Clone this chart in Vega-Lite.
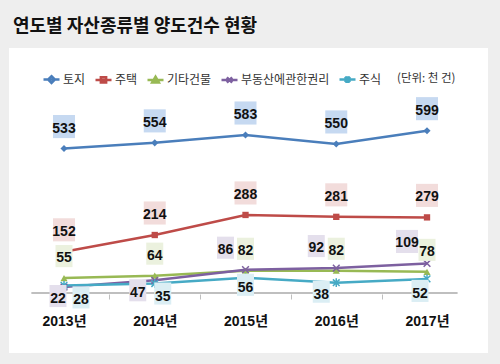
{
  "$schema": "https://vega.github.io/schema/vega-lite/v6.json",
  "width": 479,
  "height": 305,
  "autosize": {"type": "none"},
  "padding": {"left": 9, "top": 48, "right": 12, "bottom": 11},
  "background": "#eeeeee",
  "title": {"text": "연도별 자산종류별 양도건수 현황", "anchor": "start", "frame": "group", "offset": 12, "dx": 4, "font": "Noto Sans CJK KR", "fontSize": 18, "fontWeight": "bold", "color": "#111111"},
  "config": {"view": {"fill": "white", "stroke": null}},
  "data": {"values": [
    {"year": 2013, "s": "토지", "value": 533},
    {"year": 2014, "s": "토지", "value": 554},
    {"year": 2015, "s": "토지", "value": 583},
    {"year": 2016, "s": "토지", "value": 550},
    {"year": 2017, "s": "토지", "value": 599},
    {"year": 2013, "s": "주택", "value": 152},
    {"year": 2014, "s": "주택", "value": 214},
    {"year": 2015, "s": "주택", "value": 288},
    {"year": 2016, "s": "주택", "value": 281},
    {"year": 2017, "s": "주택", "value": 279},
    {"year": 2013, "s": "기타건물", "value": 55},
    {"year": 2014, "s": "기타건물", "value": 64},
    {"year": 2015, "s": "기타건물", "value": 82},
    {"year": 2016, "s": "기타건물", "value": 82},
    {"year": 2017, "s": "기타건물", "value": 78},
    {"year": 2013, "s": "부동산에관한권리", "value": 22},
    {"year": 2014, "s": "부동산에관한권리", "value": 47},
    {"year": 2015, "s": "부동산에관한권리", "value": 86},
    {"year": 2016, "s": "부동산에관한권리", "value": 92},
    {"year": 2017, "s": "부동산에관한권리", "value": 109},
    {"year": 2013, "s": "주식", "value": 28},
    {"year": 2014, "s": "주식", "value": 35},
    {"year": 2015, "s": "주식", "value": 56},
    {"year": 2016, "s": "주식", "value": 38},
    {"year": 2017, "s": "주식", "value": 52}
  ]},
  "encoding": {
    "x": {"field": "year", "type": "quantitative",
      "scale": {"domain": [2012.394, 2017.672], "nice": false, "zero": false},
      "axis": {"values": [2013, 2014, 2015, 2016, 2017], "labelExpr": "datum.value + '년'", "title": null, "domain": false, "grid": false, "offset": -59,
        "tickSize": 5, "tickColor": "#bfbfbf", "tickWidth": 1, "tickOffset": 45.4, "labelOffset": -45.4,
        "tickOpacity": {"condition": {"test": "datum.value == 2017", "value": 0}, "value": 1},
        "labelFont": "Liberation Sans, Noto Sans CJK KR", "labelFontSize": 14, "labelFontWeight": "bold", "labelColor": "#111111",
        "labelPadding": 15, "labelFlush": false, "labelOverlap": false}},
    "y": {"field": "value", "type": "quantitative", "scale": {"domain": [-221.4, 904.06], "nice": false, "zero": false}, "axis": null}
  },
  "layer": [
    {"mark": {"type": "rule", "color": "#bfbfbf", "strokeWidth": 1.5},
     "encoding": {"x": {"datum": 2012.647, "type": "quantitative"}, "x2": {"datum": 2017.331}, "y": {"datum": 0, "type": "quantitative"}}},
    {"mark": {"type": "line", "strokeWidth": 2.5},
     "encoding": {"color": {"field": "s", "type": "nominal",
       "scale": {"domain": ["토지", "주택", "기타건물", "부동산에관한권리", "주식"], "range": ["#4a7ebb", "#be4b48", "#98b954", "#7d60a0", "#46aac5"]},
       "legend": {"orient": "none", "legendX": 33, "legendY": 22, "direction": "horizontal", "title": "(단위: 천 건)", "titleOrient": "right",
         "titleFont": "Noto Sans CJK KR", "titleFontSize": 11.5, "titleFontWeight": "normal", "titleColor": "#333333", "titlePadding": 16,
         "labelFont": "Noto Sans CJK KR", "labelFontSize": 12, "labelColor": "#333333", "labelOffset": 2,
         "symbolType": "M-1,0H1", "symbolSize": 256, "symbolStrokeWidth": 2.5, "columnPadding": 4,
         "encode": {"symbols": {"update": {
           "shape": {"signal": "datum.value == '토지' ? 'M-1,0H1M0,-0.42L0.42,0L0,0.42L-0.42,0Z' : datum.value == '주택' ? 'M-1,0H1M-0.33,-0.33H0.33V0.33H-0.33Z' : datum.value == '기타건물' ? 'M-1,0H1M0,-0.4L0.42,0.33H-0.42Z' : datum.value == '부동산에관한권리' ? 'M-1,0H1M-0.33,-0.33L0.33,0.33M-0.33,0.33L0.33,-0.33' : 'M-1,0H1M-0.33,-0.33L0.33,0.33M-0.33,0.33L0.33,-0.33M0,-0.42V0.42'"},
           "fill": {"signal": "scale('color', datum.value)"}
         }}}}}}},
    {"transform": [{"filter": "datum.s == '토지'"}],
     "mark": {"type": "point", "shape": "diamond", "filled": true, "opacity": 1, "size": 50, "strokeWidth": 0, "color": "#4a7ebb"}},
    {"transform": [{"filter": "datum.s == '주택'"}],
     "mark": {"type": "point", "shape": "square", "filled": true, "opacity": 1, "size": 40, "strokeWidth": 0, "color": "#be4b48"}},
    {"transform": [{"filter": "datum.s == '기타건물'"}],
     "mark": {"type": "point", "shape": "triangle-up", "filled": true, "opacity": 1, "size": 50, "strokeWidth": 0, "color": "#98b954"}},
    {"transform": [{"filter": "datum.s == '부동산에관한권리'"}],
     "mark": {"type": "point", "shape": "M-1,-1L1,1M-1,1L1,-1", "filled": false, "opacity": 1, "size": 45, "strokeWidth": 1.5, "color": "#7d60a0"}},
    {"transform": [{"filter": "datum.s == '주식'"}],
     "mark": {"type": "point", "shape": "M-1,-1L1,1M-1,1L1,-1M0,-1.3V1.3", "filled": false, "opacity": 1, "size": 45, "strokeWidth": 1.5, "color": "#46aac5"}},
    {"transform": [{"filter": "indexof(['토지','주택','기타건물'], datum.s) >= 0"}],
     "layer": [
       {"mark": {"type": "point", "filled": true, "opacity": 1, "strokeWidth": 0, "xOffset": 0, "yOffset": -22},
        "encoding": {"fill": {"field": "s", "type": "nominal", "scale": {"domain": ["토지", "주택", "기타건물", "부동산에관한권리", "주식"], "range": ["#c6d9f1", "#f2dcdb", "#ebf1de", "#e4dfec", "#dbeef4"]}, "legend": null},
          "shape": {"condition": {"test": "datum.value >= 100", "value": "M-1,-1.05H1V1.05H-1Z"}, "value": "M-1,-1.3H1V1.3H-1Z"},
          "size": {"condition": {"test": "datum.value >= 100", "value": 484}, "value": 289}}},
       {"mark": {"type": "text", "font": "Liberation Sans", "fontSize": 14, "fontWeight": "bold", "color": "#111111", "baseline": "middle", "align": "center", "dx": 0, "dy": -20},
        "encoding": {"text": {"field": "value", "type": "quantitative"}}}
     ]},
    {"transform": [{"filter": "datum.s == '부동산에관한권리' && datum.year >= 2015"}],
     "layer": [
       {"mark": {"type": "point", "filled": true, "opacity": 1, "strokeWidth": 0, "xOffset": -20, "yOffset": -22},
        "encoding": {"fill": {"field": "s", "type": "nominal", "scale": {"domain": ["토지", "주택", "기타건물", "부동산에관한권리", "주식"], "range": ["#c6d9f1", "#f2dcdb", "#ebf1de", "#e4dfec", "#dbeef4"]}, "legend": null},
          "shape": {"condition": {"test": "datum.value >= 100", "value": "M-1,-1.05H1V1.05H-1Z"}, "value": "M-1,-1.3H1V1.3H-1Z"},
          "size": {"condition": {"test": "datum.value >= 100", "value": 484}, "value": 289}}},
       {"mark": {"type": "text", "font": "Liberation Sans", "fontSize": 14, "fontWeight": "bold", "color": "#111111", "baseline": "middle", "align": "center", "dx": -20, "dy": -20},
        "encoding": {"text": {"field": "value", "type": "quantitative"}}}
     ]},
    {"transform": [{"filter": "datum.s == '부동산에관한권리' && datum.year == 2013"}],
     "layer": [
       {"mark": {"type": "point", "filled": true, "opacity": 1, "strokeWidth": 0, "xOffset": -6, "yOffset": 9},
        "encoding": {"fill": {"field": "s", "type": "nominal", "scale": {"domain": ["토지", "주택", "기타건물", "부동산에관한권리", "주식"], "range": ["#c6d9f1", "#f2dcdb", "#ebf1de", "#e4dfec", "#dbeef4"]}, "legend": null},
          "shape": {"value": "M-1,-1.3H1V1.3H-1Z"}, "size": {"value": 289}}},
       {"mark": {"type": "text", "font": "Liberation Sans", "fontSize": 14, "fontWeight": "bold", "color": "#111111", "baseline": "middle", "align": "center", "dx": -6, "dy": 12},
        "encoding": {"text": {"field": "value", "type": "quantitative"}}}
     ]},
    {"transform": [{"filter": "datum.s == '부동산에관한권리' && datum.year == 2014"}],
     "layer": [
       {"mark": {"type": "point", "filled": true, "opacity": 1, "strokeWidth": 0, "xOffset": -17, "yOffset": 10},
        "encoding": {"fill": {"field": "s", "type": "nominal", "scale": {"domain": ["토지", "주택", "기타건물", "부동산에관한권리", "주식"], "range": ["#c6d9f1", "#f2dcdb", "#ebf1de", "#e4dfec", "#dbeef4"]}, "legend": null},
          "shape": {"value": "M-1,-1.3H1V1.3H-1Z"}, "size": {"value": 289}}},
       {"mark": {"type": "text", "font": "Liberation Sans", "fontSize": 14, "fontWeight": "bold", "color": "#111111", "baseline": "middle", "align": "center", "dx": -17, "dy": 13},
        "encoding": {"text": {"field": "value", "type": "quantitative"}}}
     ]},
    {"transform": [{"filter": "datum.s == '주식' && datum.year == 2013"}],
     "layer": [
       {"mark": {"type": "point", "filled": true, "opacity": 1, "strokeWidth": 0, "xOffset": 17, "yOffset": 12},
        "encoding": {"fill": {"field": "s", "type": "nominal", "scale": {"domain": ["토지", "주택", "기타건물", "부동산에관한권리", "주식"], "range": ["#c6d9f1", "#f2dcdb", "#ebf1de", "#e4dfec", "#dbeef4"]}, "legend": null},
          "shape": {"value": "M-1,-1.3H1V1.3H-1Z"}, "size": {"value": 289}}},
       {"mark": {"type": "text", "font": "Liberation Sans", "fontSize": 14, "fontWeight": "bold", "color": "#111111", "baseline": "middle", "align": "center", "dx": 17, "dy": 15},
        "encoding": {"text": {"field": "value", "type": "quantitative"}}}
     ]},
    {"transform": [{"filter": "datum.s == '주식' && datum.year == 2014"}],
     "layer": [
       {"mark": {"type": "point", "filled": true, "opacity": 1, "strokeWidth": 0, "xOffset": 8, "yOffset": 10},
        "encoding": {"fill": {"field": "s", "type": "nominal", "scale": {"domain": ["토지", "주택", "기타건물", "부동산에관한권리", "주식"], "range": ["#c6d9f1", "#f2dcdb", "#ebf1de", "#e4dfec", "#dbeef4"]}, "legend": null},
          "shape": {"value": "M-1,-1.3H1V1.3H-1Z"}, "size": {"value": 289}}},
       {"mark": {"type": "text", "font": "Liberation Sans", "fontSize": 14, "fontWeight": "bold", "color": "#111111", "baseline": "middle", "align": "center", "dx": 8, "dy": 13},
        "encoding": {"text": {"field": "value", "type": "quantitative"}}}
     ]},
    {"transform": [{"filter": "datum.s == '주식' && datum.year == 2015"}],
     "layer": [
       {"mark": {"type": "point", "filled": true, "opacity": 1, "strokeWidth": 0, "xOffset": 0, "yOffset": 7},
        "encoding": {"fill": {"field": "s", "type": "nominal", "scale": {"domain": ["토지", "주택", "기타건물", "부동산에관한권리", "주식"], "range": ["#c6d9f1", "#f2dcdb", "#ebf1de", "#e4dfec", "#dbeef4"]}, "legend": null},
          "shape": {"value": "M-1,-1.3H1V1.3H-1Z"}, "size": {"value": 289}}},
       {"mark": {"type": "text", "font": "Liberation Sans", "fontSize": 14, "fontWeight": "bold", "color": "#111111", "baseline": "middle", "align": "center", "dx": 0, "dy": 10},
        "encoding": {"text": {"field": "value", "type": "quantitative"}}}
     ]},
    {"transform": [{"filter": "datum.s == '주식' && datum.year == 2016"}],
     "layer": [
       {"mark": {"type": "point", "filled": true, "opacity": 1, "strokeWidth": 0, "xOffset": -15, "yOffset": 9},
        "encoding": {"fill": {"field": "s", "type": "nominal", "scale": {"domain": ["토지", "주택", "기타건물", "부동산에관한권리", "주식"], "range": ["#c6d9f1", "#f2dcdb", "#ebf1de", "#e4dfec", "#dbeef4"]}, "legend": null},
          "shape": {"value": "M-1,-1.3H1V1.3H-1Z"}, "size": {"value": 289}}},
       {"mark": {"type": "text", "font": "Liberation Sans", "fontSize": 14, "fontWeight": "bold", "color": "#111111", "baseline": "middle", "align": "center", "dx": -15, "dy": 12},
        "encoding": {"text": {"field": "value", "type": "quantitative"}}}
     ]},
    {"transform": [{"filter": "datum.s == '주식' && datum.year == 2017"}],
     "layer": [
       {"mark": {"type": "point", "filled": true, "opacity": 1, "strokeWidth": 0, "xOffset": -7, "yOffset": 12},
        "encoding": {"fill": {"field": "s", "type": "nominal", "scale": {"domain": ["토지", "주택", "기타건물", "부동산에관한권리", "주식"], "range": ["#c6d9f1", "#f2dcdb", "#ebf1de", "#e4dfec", "#dbeef4"]}, "legend": null},
          "shape": {"value": "M-1,-1.3H1V1.3H-1Z"}, "size": {"value": 289}}},
       {"mark": {"type": "text", "font": "Liberation Sans", "fontSize": 14, "fontWeight": "bold", "color": "#111111", "baseline": "middle", "align": "center", "dx": -7, "dy": 15},
        "encoding": {"text": {"field": "value", "type": "quantitative"}}}
     ]}
  ]
}
